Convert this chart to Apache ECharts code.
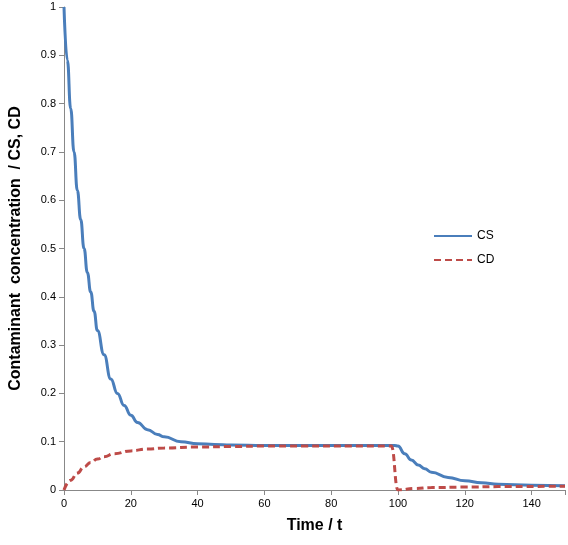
<!DOCTYPE html><html><head><meta charset="utf-8">
<script src="https://cdn.jsdelivr.net/npm/echarts@6/dist/echarts.min.js"></script>
<style>html,body{margin:0;padding:0;background:#fff}#c{width:568px;height:545px}</style></head>
<body><div id="c"></div><script>
const csT=[0,1,2,3,4,5,6,7,8,9,10,12,14,16,18,20,22,25,28,30,35,40,45,50,60,70,80,90,99,100,102,104,106,108,110,115,120,125,130,140,150];
const csV=[1.0,0.89,0.79,0.70,0.62,0.56,0.50,0.45,0.41,0.37,0.33,0.28,0.23,0.20,0.175,0.155,0.14,0.125,0.115,0.11,0.10,0.096,0.094,0.093,0.092,0.092,0.092,0.092,0.092,0.091,0.075,0.062,0.052,0.044,0.037,0.026,0.019,0.015,0.012,0.010,0.009];
const cdT=[0,2,4,6,8,10,12,15,20,25,30,40,50,60,98,100,105,110,120,130,150];
const cdV=[0,0.02,0.035,0.048,0.057,0.064,0.069,0.075,0.081,0.085,0.087,0.089,0.090,0.091,0.091,0,0.003,0.005,0.006,0.007,0.008];
const xTicks=[0,20,40,60,80,100,120,140];
const yTicks=[0,0.1,0.2,0.3,0.4,0.5,0.6,0.7,0.8,0.9,1];
const ch=echarts.init(document.getElementById('c'));
const f='Liberation Sans';
ch.setOption({animation:false,
grid:{left:57,right:0,top:7,bottom:55},
legend:{orient:'vertical',left:428,top:225,itemGap:12,itemWidth:38,itemHeight:10,itemStyle:{opacity:0},textStyle:{fontFamily:f,fontSize:12,color:'#000'},data:['CS','CD']},
xAxis:{type:'value',min:0,max:150,interval:20,splitLine:{show:false},
 axisLine:{lineStyle:{color:'#888'}},axisTick:{show:true,lineStyle:{color:'#888'}},
 axisLabel:{fontFamily:f,fontSize:11,color:'#000',formatter:v=>xTicks.includes(v)?String(v):''},
 name:'Time / t',nameLocation:'middle',nameGap:28,nameTextStyle:{fontFamily:f,fontSize:16,fontWeight:'bold',color:'#000'}},
yAxis:{type:'value',min:0,max:1,interval:0.1,splitLine:{show:false},
 axisLine:{show:true,lineStyle:{color:'#888'}},axisTick:{show:true,lineStyle:{color:'#888'}},
 axisLabel:{fontFamily:f,fontSize:11,color:'#000',formatter:v=>String(+v.toFixed(1))},
 name:'Contaminant  concentration  / CS, CD',nameLocation:'middle',nameGap:40,nameTextStyle:{fontFamily:f,fontSize:16,fontWeight:'bold',color:'#000'}},
series:[
{name:'CS',type:'line',smooth:true,smoothMonotone:'x',showSymbol:false,symbol:'none',color:'#4a7ebb',lineStyle:{width:3,color:'#4a7ebb'},data:csT.map((t,i)=>[t,csV[i]])},
{name:'CD',type:'line',smooth:true,smoothMonotone:'x',showSymbol:false,symbol:'none',color:'#be4b48',lineStyle:{width:3,type:[7,4],color:'#be4b48'},data:cdT.map((t,i)=>[t,cdV[i]])}
]});
</script></body></html>
